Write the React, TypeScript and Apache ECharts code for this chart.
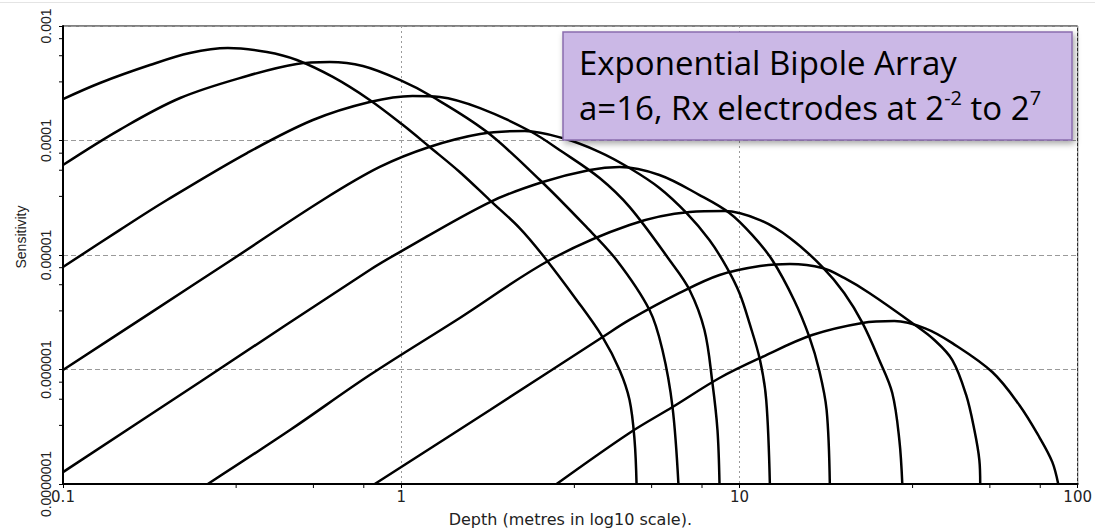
import React, { useEffect, useRef } from 'react';
import * as echarts from 'echarts';

const xTickLabels = ['0.1', '1', '10', '100'];
const yTickLabels = ['0.0000001', '0.000001', '0.00001', '0.0001', '0.001'];
const xMinorTicks = [0.325, 0.55, 0.775, 3.25, 5.5, 7.75, 32.5, 55, 77.5];
const yMinorTicks = [
  3.25e-7, 5.5e-7, 7.75e-7, 3.25e-6, 5.5e-6, 7.75e-6,
  3.25e-5, 5.5e-5, 7.75e-5, 3.25e-4, 5.5e-4, 7.75e-4,
];
const X_MIN = 0.1;
const X_MAX = 100;
const Y_MIN = 1e-7;
const Y_MAX = 1e-3;

const curve1: number[][] = [
  [0.1, 2.3e-4], [0.1286, 3.18e-4], [0.1807, 4.56e-4], [0.2372, 5.81e-4], [0.3072, 6.43e-4],
  [0.4006, 5.93e-4], [0.4913, 5.05e-4], [0.6277, 3.59e-4], [0.8069, 2.26e-4], [1.01, 1.37e-4],
  [1.214, 8.77e-5], [1.489, 5.31e-5], [1.826, 3.02e-5], [2.239, 1.72e-5], [2.618, 1.0e-5],
  [3.3, 4.05e-6], [3.938, 1.92e-6], [4.421, 9.9e-7], [4.732, 5.41e-7], [4.896, 2.42e-7], [4.963, 1e-7],
];
const curve2: number[][] = [
  [0.1, 6.11e-5], [0.147, 1.24e-4], [0.222, 2.35e-4], [0.35, 3.66e-4], [0.491, 4.66e-4],
  [0.615, 4.85e-4], [0.77, 4.47e-4], [0.99, 3.38e-4], [1.24, 2.4e-4], [1.79, 1.19e-4],
  [2.57, 4.52e-5], [3.48, 1.83e-5], [4.33, 9.04e-6], [5.42, 3.31e-6], [5.92, 1.48e-6],
  [6.34, 4.7e-7], [6.6, 1e-7],
];
const curve3: number[][] = [
  [0.1, 7.85e-6], [0.147, 1.65e-5], [0.203, 3.02e-5], [0.35, 7.77e-5], [0.548, 1.51e-4],
  [0.807, 2.17e-4], [1.08, 2.45e-4], [1.3, 2.4e-4], [1.71, 1.92e-4], [2.4, 1.21e-4],
  [3.0, 7.93e-5], [3.86, 4.7e-5], [4.73, 2.63e-5], [6.21, 9.04e-6], [7.12, 4.95e-6],
  [7.88, 2.21e-6], [8.32, 7.62e-7], [8.61, 2.96e-7], [8.73, 1e-7],
];
const curve4: number[][] = [
  [0.1, 9.9e-7], [0.181, 3.11e-6], [0.318, 9.23e-6], [0.586, 3.02e-5], [0.864, 5.87e-5],
  [1.21, 8.77e-5], [1.71, 1.14e-4], [2.32, 1.21e-4], [3.0, 1.05e-4], [3.86, 7.93e-5],
  [4.73, 5.75e-5], [5.8, 3.85e-5], [6.97, 2.33e-5], [8.15, 1.35e-5], [9.16, 7.85e-6],
  [10.0, 4.66e-6], [10.7, 2.55e-6], [11.5, 1.21e-6], [12.0, 5.41e-7], [12.3, 1e-7],
];
const curve5: number[][] = [
  [0.1, 1.27e-7], [0.254, 7.78e-7], [0.807, 7.4e-6], [0.99, 1.06e-5], [1.83, 2.9e-5],
  [2.62, 4.34e-5], [3.61, 5.53e-5], [4.42, 5.87e-5], [5.8, 5.0e-5], [7.62, 3.34e-5],
  [9.34, 2.33e-5], [10.9, 1.5e-5], [12.5, 9.04e-6], [14.5, 4.05e-6], [16.1, 1.92e-6],
  [17.2, 9.9e-7], [18.1, 4.43e-7], [18.5, 1e-7],
];
const curve6: number[][] = [
  [0.268, 1e-7], [0.469, 2.96e-7], [0.807, 8.95e-7], [1.49, 2.82e-6], [2.75, 9.04e-6],
  [4.73, 1.83e-5], [7.12, 2.37e-5], [9.03, 2.42e-5], [11.5, 2.02e-5], [14.1, 1.41e-5],
  [17.6, 7.85e-6], [20.4, 4.66e-6], [23.1, 2.55e-6], [25.9, 1.21e-6], [28.3, 6.23e-7],
  [29.7, 2.42e-7], [30.3, 1e-7],
];
const curve7: number[][] = [
  [0.835, 1e-7], [1.83, 4.43e-7], [3.94, 1.92e-6], [4.73, 2.71e-6], [6.65, 4.66e-6],
  [8.73, 6.69e-6], [11.5, 8.01e-6], [14.1, 8.34e-6], [17.6, 7.7e-6], [20.4, 6.3e-6],
  [24.2, 4.66e-6], [32.4, 2.55e-6], [37.7, 1.81e-6], [42.6, 1.21e-6], [46.8, 5.99e-7],
  [49.5, 2.96e-7], [51.2, 1.62e-7], [51.5, 1e-7],
];
const curve8: number[][] = [
  [2.88, 1e-7], [4.73, 2.79e-7], [6.34, 4.7e-7], [8.73, 8.43e-7], [11.7, 1.29e-6],
  [16.4, 2.0e-6], [23.1, 2.55e-6], [28.7, 2.65e-6], [35.4, 2.29e-6], [42.6, 1.7e-6],
  [55.9, 9.51e-7], [67.2, 4.9e-7], [77.0, 2.57e-7], [84.1, 1.56e-7], [87.6, 1e-7],
];

const curves = [curve1, curve2, curve3, curve4, curve5, curve6, curve7, curve8];
const curveNames = ['Rx 1', 'Rx 2', 'Rx 3', 'Rx 4', 'Rx 5', 'Rx 6', 'Rx 7', 'Rx 8'];

export default function App() {
  const ref = useRef<HTMLDivElement>(null);

  useEffect(() => {
    if (!ref.current) return;
    const chart = echarts.init(ref.current, undefined, { renderer: 'svg' });

    const tickData = [
      ...xMinorTicks.map((v) => [v, Y_MIN, 0]),
      ...yMinorTicks.map((v) => [X_MIN, v, 1]),
    ];

    const option: any = {
      animation: false,
      backgroundColor: '#ffffff',
      grid: {
        left: 63,
        right: 17,
        top: 26,
        bottom: 48,
        show: true,
        borderColor: '#000',
        borderWidth: 1,
        backgroundColor: 'transparent',
      },
      xAxis: {
        type: 'log',
        logBase: 10,
        min: X_MIN,
        max: X_MAX,
        name: 'Depth (metres in log10 scale).',
        nameLocation: 'middle',
        nameGap: 27,
        nameTextStyle: { fontFamily: 'DejaVu Sans', fontSize: 16, color: '#222' },
        axisLine: { show: true, onZero: false, lineStyle: { color: '#000', width: 2 } },
        axisTick: { show: true, length: 4, lineStyle: { color: '#000', width: 1 } },
        axisLabel: {
          margin: 5,
          fontFamily: 'DejaVu Sans',
          fontSize: 15,
          color: '#222',
          showMinLabel: true,
          showMaxLabel: true,
          formatter: (v: number) => xTickLabels[Math.round(Math.log10(v)) + 1] ?? '',
        },
        splitLine: { show: true, lineStyle: { color: '#9a9a9a', type: [2, 3], width: 1 } },
      },
      yAxis: {
        type: 'log',
        logBase: 10,
        min: Y_MIN,
        max: Y_MAX,
        name: 'Sensitivity',
        nameLocation: 'middle',
        nameRotate: 90,
        nameGap: 35,
        nameTextStyle: {
          fontFamily: 'Liberation Sans',
          fontSize: 14,
          color: '#222',
          padding: [0, 0, 0, 36],
        },
        axisLine: { show: true, onZero: false, lineStyle: { color: '#000', width: 2 } },
        axisTick: { show: true, length: 4, lineStyle: { color: '#000', width: 1 } },
        axisLabel: {
          rotate: 90,
          margin: 10,
          fontFamily: 'Liberation Sans',
          fontSize: 14,
          color: '#222',
          showMinLabel: true,
          showMaxLabel: true,
          formatter: (v: number) => yTickLabels[Math.round(Math.log10(v)) + 7] ?? '',
        },
        splitLine: { show: true, lineStyle: { color: '#9a9a9a', type: [5, 3], width: 1 } },
      },
      graphic: [
        {
          type: 'line',
          shape: { x1: 0, y1: 2.5, x2: 1095, y2: 2.5 },
          style: { stroke: '#e4e4e4', lineWidth: 1 },
          silent: true,
        },
        {
          type: 'rect',
          z: 100,
          shape: { x: 563, y: 32, width: 509, height: 108 },
          style: {
            fill: '#cbb8e6',
            stroke: '#8a6cae',
            lineWidth: 1.5,
            shadowBlur: 6,
            shadowOffsetX: 2,
            shadowOffsetY: 3,
            shadowColor: 'rgba(0,0,0,0.35)',
          },
          silent: true,
        },
        {
          type: 'text',
          z: 101,
          x: 579,
          y: 62.6,
          style: {
            text: 'Exponential Bipole Array',
            fontFamily: 'Open Sans',
            fontSize: 33,
            fill: '#000',
            verticalAlign: 'middle',
          },
          silent: true,
        },
        {
          type: 'text',
          z: 101,
          x: 579,
          y: 107.6,
          style: {
            text: 'a=16, Rx electrodes at 2{sup|-2} to 2{sup|7}',
            fontFamily: 'Open Sans',
            fontSize: 33,
            lineHeight: 40,
            fill: '#000',
            verticalAlign: 'middle',
            rich: {
              sup: {
                fontFamily: 'Open Sans',
                fontSize: 20,
                lineHeight: 18,
                verticalAlign: 'top',
                fill: '#000',
              },
            },
          },
          silent: true,
        },
      ],
      series: [
        ...curves.map((c, i) => ({
          type: 'line',
          name: curveNames[i],
          data: c,
          showSymbol: false,
          symbol: 'none',
          smooth: 0.35,
          silent: true,
          z: 3,
          lineStyle: { color: '#000', width: 2.5 },
          emphasis: { disabled: true },
        })),
        {
          type: 'custom',
          name: 'minor ticks',
          clip: false,
          silent: true,
          z: 4,
          data: tickData,
          renderItem: (_params: any, api: any) => {
            const kind = api.value(2);
            const p = api.coord([api.value(0), api.value(1)]);
            if (kind === 0) {
              return {
                type: 'line',
                shape: { x1: p[0], y1: p[1], x2: p[0], y2: p[1] + 4 },
                style: { stroke: '#000', lineWidth: 1 },
              };
            }
            return {
              type: 'line',
              shape: { x1: p[0] - 4, y1: p[1], x2: p[0], y2: p[1] },
              style: { stroke: '#000', lineWidth: 1 },
            };
          },
        },
      ],
    };

    chart.setOption(option);
    return () => chart.dispose();
  }, []);

  return (
    <div
      ref={ref}
      style={{ position: 'absolute', left: 0, top: 0, width: 1095, height: 532, background: '#fff' }}
    />
  );
}
